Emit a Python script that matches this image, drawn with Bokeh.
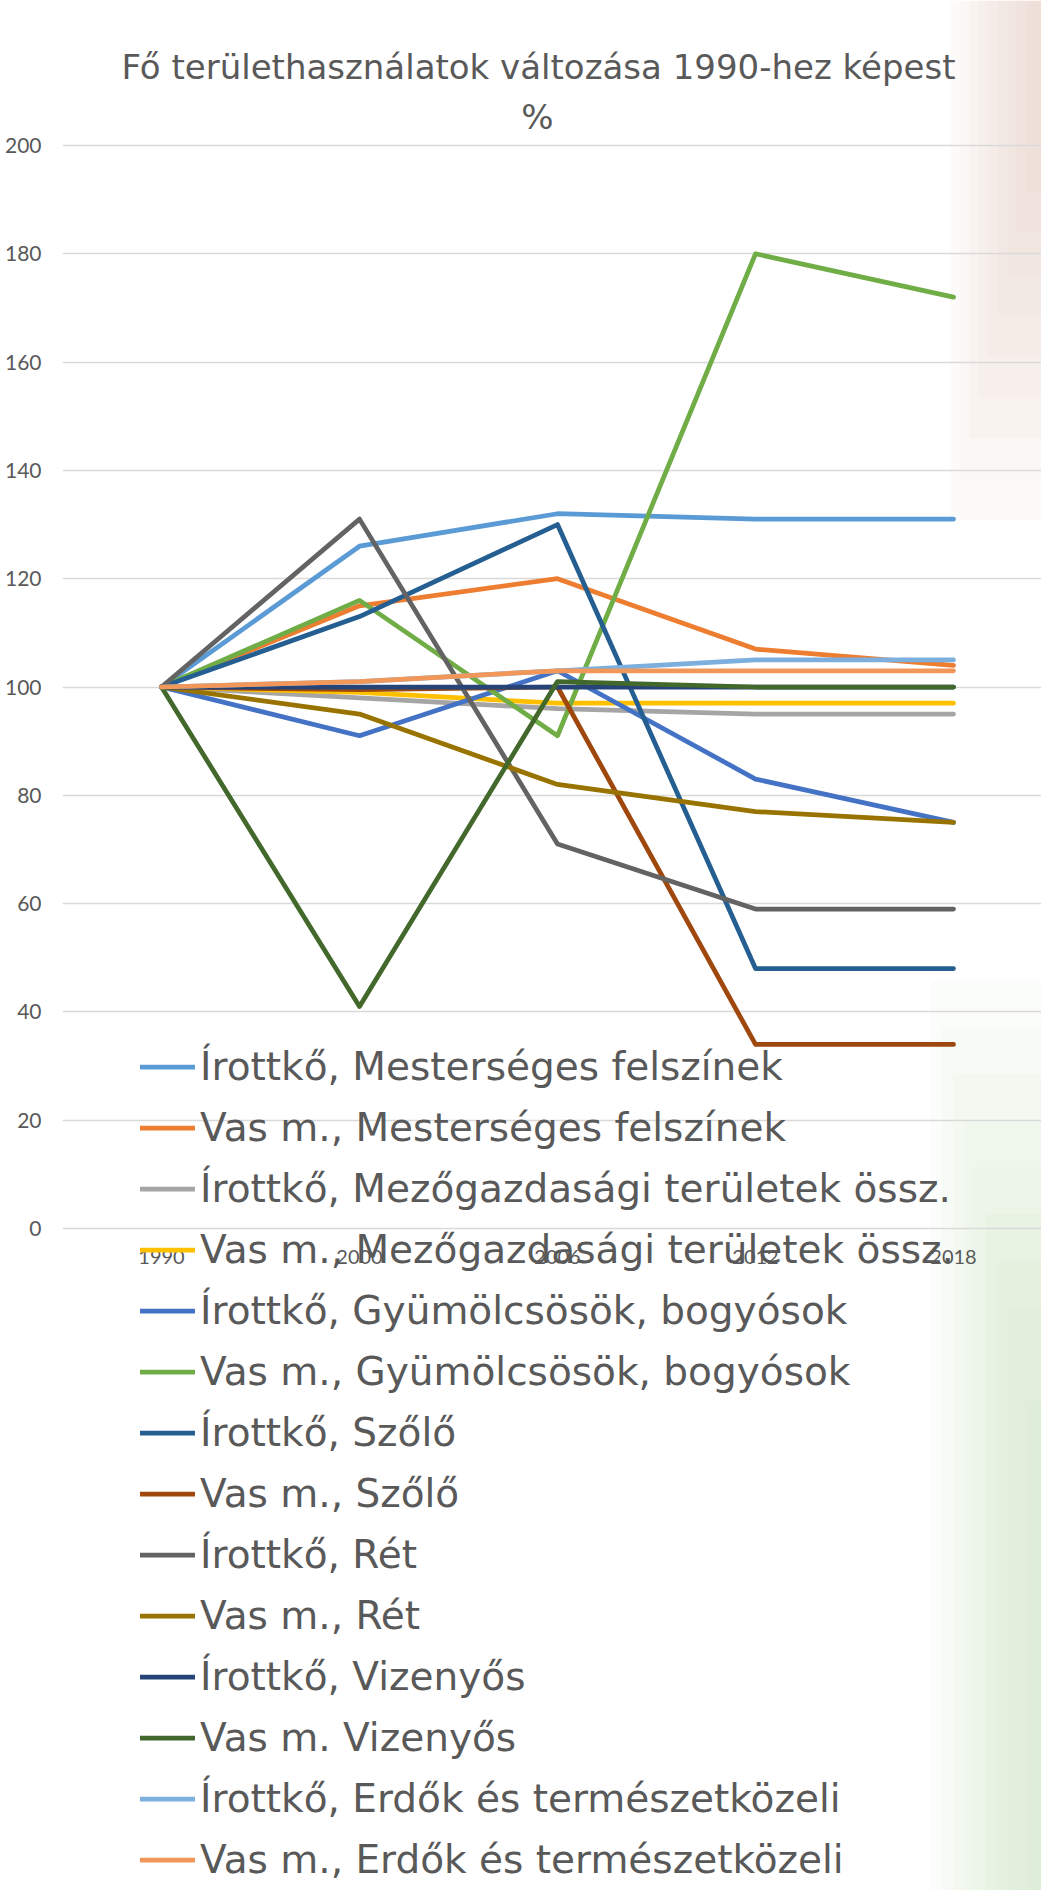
from bokeh.plotting import figure
from bokeh.models import Range1d, FixedTicker, Legend, LegendItem, Label
from bokeh.core.properties import value
from bokeh.embed import file_html
from bokeh.resources import INLINE

years = ["1990", "2000", "2006", "2012", "2018"]
y_ticks = [0, 20, 40, 60, 80, 100, 120, 140, 160, 180, 200]

series_names = [
    "Írottkő, Mesterséges felszínek",
    "Vas m., Mesterséges felszínek",
    "Írottkő, Mezőgazdasági területek össz.",
    "Vas m., Mezőgazdasági területek össz.",
    "Írottkő, Gyümölcsösök, bogyósok",
    "Vas m., Gyümölcsösök, bogyósok",
    "Írottkő, Szőlő",
    "Vas m., Szőlő",
    "Írottkő, Rét",
    "Vas m., Rét",
    "Írottkő, Vizenyős",
    "Vas m. Vizenyős",
    "Írottkő, Erdők és természetközeli",
    "Vas m., Erdők és természetközeli",
]

irott_mest = [100, 126, 132, 131, 131]
vas_mest = [100, 115, 120, 107, 104]
irott_mezo = [100, 98, 96, 95, 95]
vas_mezo = [100, 99, 97, 97, 97]
irott_gyum = [100, 91, 103, 83, 75]
vas_gyum = [100, 116, 91, 180, 172]
irott_szolo = [100, 113, 130, 48, 48]
vas_szolo = [100, 99.5, 100, 34, 34]
irott_ret = [100, 131, 71, 59, 59]
vas_ret = [100, 95, 82, 77, 75]
irott_viz = [100, 100, 100, 100, 100]
vas_viz = [100, 41, 101, 100, 100]
irott_erdo = [100, 101, 103, 105, 105]
vas_erdo = [100, 101, 103, 103, 103]

series_values = [irott_mest, vas_mest, irott_mezo, vas_mezo, irott_gyum, vas_gyum,
                 irott_szolo, vas_szolo, irott_ret, vas_ret, irott_viz, vas_viz,
                 irott_erdo, vas_erdo]

colors = ["#5B9BD5", "#ED7D31", "#A5A5A5", "#FFC000", "#4472C4", "#70AD47",
          "#255E91", "#9E480E", "#636363", "#997300", "#264478", "#43682B",
          "#7CAFDD", "#F1975A"]

TXT = "#595959"
TICK_FONT = "Lato"
BIG_FONT = "DejaVu Sans"

# layout (pixels on the canvas)
W, H = 1041, 1890
FRAME_LEFT = 62
X0_PX, X_STEP_PX = 161, 198        # first category centre, category spacing
Y200_PX, Y0_PX = 145, 1228          # pixel rows of the 200 and 0 gridlines
ppu = (Y0_PX - Y200_PX) / 200.0

def xd(px):
    return (px - X0_PX) / X_STEP_PX

def yd(py):
    return (Y0_PX - py) / ppu

x_idx = list(range(len(years)))

p = figure(width=W, height=H, output_backend="svg", toolbar_location=None,
           x_range=Range1d(xd(FRAME_LEFT), xd(W)), y_range=Range1d(yd(H), yd(0)),
           min_border_left=FRAME_LEFT, min_border_right=0, min_border_top=0,
           min_border_bottom=0, outline_line_color=None, x_axis_location=None)
p.background_fill_color = "white"
p.border_fill_color = "white"

# faint slide-background tint at the right edge (decoration only)
steps = 10
for i in range(steps):
    f = i / (steps - 1)
    p.quad(left=xd(950 + 85 * f), right=xd(W), top=yd(0), bottom=yd(520 - 370 * f),
           fill_color="#E8C8B8", fill_alpha=0.07, line_color=None, level="image")
    p.quad(left=xd(930 + 100 * f), right=xd(W), top=yd(980 + 420 * f), bottom=yd(H),
           fill_color="#C8E4B0", fill_alpha=0.067, line_color=None, level="image")

items = []
for name, vals, c in zip(series_names, series_values, colors):
    r = p.line(x_idx, vals, line_color=c, line_width=4.75,
               line_join="round", line_cap="round")
    items.append(LegendItem(label=name, renderers=[r]))

# y axis
p.yaxis.ticker = FixedTicker(ticks=y_ticks)
p.yaxis.axis_line_color = None
p.yaxis.major_tick_line_color = None
p.yaxis.minor_tick_line_color = None
p.yaxis.major_tick_in = 0
p.yaxis.major_tick_out = 0
p.yaxis.minor_tick_in = 0
p.yaxis.minor_tick_out = 0
p.yaxis.major_label_text_color = TXT
p.yaxis.major_label_text_font = TICK_FONT
p.yaxis.major_label_text_font_size = "21px"
p.yaxis.major_label_standoff = 21

# category labels under the 0 line
p.text(x=x_idx, y=[y_ticks[0]] * len(years), text=years, text_align="center",
       text_baseline="middle", y_offset=28, text_color=TXT,
       text_font=value(TICK_FONT), text_font_size=value("20px"))

p.xgrid.grid_line_color = None
p.ygrid.grid_line_color = "#D9D9D9"
p.ygrid.grid_line_width = 1.5
p.ygrid.ticker = FixedTicker(ticks=y_ticks)

# title (two lines)
p.add_layout(Label(x=xd(538), y=yd(66), text="Fő területhasználatok változása 1990-hez képest",
                   text_align="center", text_baseline="middle",
                   text_font=BIG_FONT, text_font_size="34px", text_color=TXT))
p.add_layout(Label(x=xd(537), y=yd(116), text="%",
                   text_align="center", text_baseline="middle",
                   text_font=BIG_FONT, text_font_size="34px", text_color=TXT))

legend_top = 1036
item_h = 61
legend_bottom = legend_top + item_h * len(series_names)
legend = Legend(items=items, location=(140 - FRAME_LEFT, H - legend_bottom),
                orientation="vertical",
                label_text_font=BIG_FONT, label_text_font_size="39px",
                label_text_color=TXT, glyph_width=55, glyph_height=item_h,
                label_height=item_h, label_standoff=5, spacing=0, padding=0,
                margin=0, border_line_color=None, background_fill_alpha=0)
p.add_layout(legend)

open("out.html", "w").write(file_html(p, INLINE))
